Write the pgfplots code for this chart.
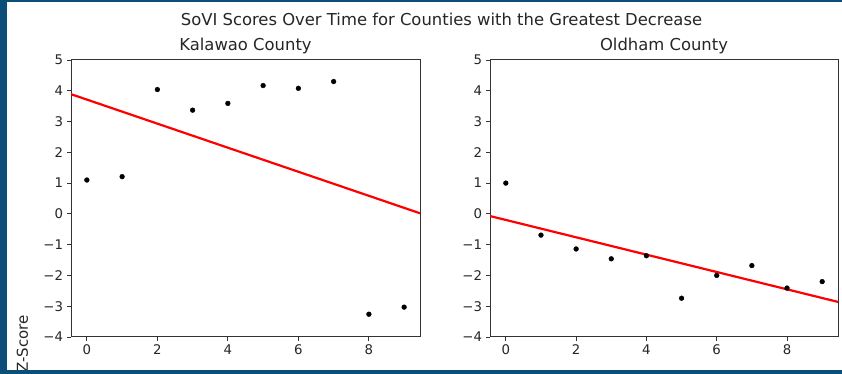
\documentclass[border=0pt]{standalone}
\usepackage{pgfplots}
\pgfplotsset{compat=1.18}
\usepackage{fontspec}
\setmainfont{DejaVu Sans}
\definecolor{frameblue}{RGB}{11,79,121}
\pgfplotsset{
  myax/.style={
    anchor=south west, scale only axis,
    width=348pt, height=277pt,
    xmin=-0.45, xmax=9.45, ymin=-4, ymax=5,
    xtick={0,2,4,6,8}, xticklabels={0,2,4,6,8},
    ytick={-4,-3,-2,-1,0,1,2,3,4,5},
    yticklabels={−4,−3,−2,−1,0,1,2,3,4,5},
    tick align=outside, tick pos=left,
    major tick length=4pt,
    every tick/.style={black!80, line width=0.8pt},
    axis line style={black!80, line width=1pt},
    tick label style={font=\fontsize{13.3}{16}\selectfont, text=black!85},
    xticklabel style={yshift=-0.5pt},
    yticklabel style={xshift=-0.5pt},
    clip=true,
  }
}
\begin{document}
\begin{tikzpicture}[x=1pt,y=1pt]
\useasboundingbox (0,0) rectangle (842,374);
\fill[white] (0,0) rectangle (842,374);
\begin{axis}[myax, at={(71pt,37pt)}, width=349pt]
\addplot[only marks, mark=*, mark size=2.4pt, black] coordinates {
(0,1.10) (1,1.21) (2,4.04) (3,3.37) (4,3.59) (5,4.17) (6,4.08) (7,4.30) (8,-3.26) (9,-3.03)};
\addplot[red, line width=2.2pt] coordinates {(-0.45,3.89) (9.45,0.02)};
\end{axis}
\begin{axis}[myax, at={(490pt,37pt)}]
\addplot[only marks, mark=*, mark size=2.4pt, black] coordinates {
(0,1.00) (1,-0.69) (2,-1.14) (3,-1.46) (4,-1.36) (5,-2.74) (6,-2.00) (7,-1.68) (8,-2.41) (9,-2.20)};
\addplot[red, line width=2.2pt] coordinates {(-0.45,-0.07) (9.45,-2.86)};
\end{axis}
\node[font=\fontsize{16.4}{19}\selectfont, text=black!85] at (441.5,355) {SoVI Scores Over Time for Counties with the Greatest Decrease};
\node[font=\fontsize{16.4}{19}\selectfont, text=black!85] at (245.5,328.5) {Kalawao County};
\node[font=\fontsize{16.4}{19}\selectfont, text=black!85] at (664,328.5) {Oldham County};
\node[font=\fontsize{15}{18}\selectfont, text=black!85, rotate=90, anchor=west, inner sep=0pt] at (22.5,1) {Z-Score};
\fill[frameblue] (0,0) rectangle (7,374);
\fill[frameblue] (0,0) rectangle (842,4);
\fill[frameblue] (0,372) rectangle (842,374);
\end{tikzpicture}
\end{document}
